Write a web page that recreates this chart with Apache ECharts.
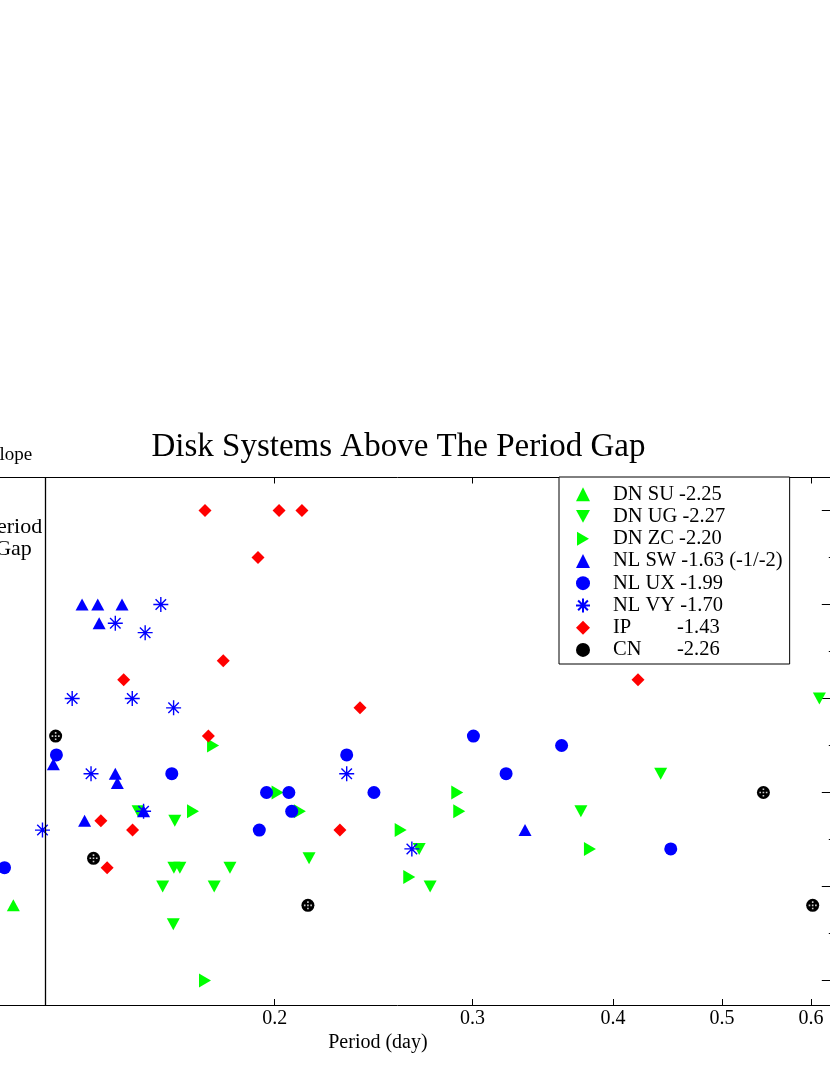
<!DOCTYPE html>
<html>
<head>
<meta charset="utf-8">
<title>Disk Systems Above The Period Gap</title>
<script src="https://cdn.jsdelivr.net/npm/echarts@6.0.0/dist/echarts.min.js"></script>
<style>
    html, body { margin: 0; padding: 0; width: 830px; height: 1075px; overflow: hidden; background: #fff; }
    #chart { position: absolute; left: -60px; top: 0; width: 960px; height: 1075px; }
</style>
</head>
<body>
<div id="chart"></div>
<script>
var FONT = '"Liberation Serif", "Times New Roman", serif';

// axis ticks
var periodTicks = [0.2, 0.3, 0.4, 0.5, 0.6];
var periodTickLabels = ['0.2', '0.3', '0.4', '0.5', '0.6'];
var slopeMajorTicks = [-1, -1.5, -2, -2.5, -3, -3.5];
var slopeMinorTicks = [-1.25, -1.75, -2.25, -2.75, -3.25];
var periodGap = 0.125;

// legend
var seriesNames = ['DN SU', 'DN UG', 'DN ZC', 'NL SW', 'NL UX', 'NL VY', 'IP', 'CN'];
var seriesSlopes = ['-2.25', '-2.27', '-2.20', '-1.63 (-1/-2)', '-1.99', '-1.70', '-1.43', '-2.26'];

// [period (day), slope]
var dnSU = [[0.1171, -3.10]];
var dnUG = [[0.1512, -2.60], [0.1630, -2.65], [0.1627, -2.90], [0.1647, -2.90], [0.1825, -2.90],
    [0.1590, -3.00], [0.1767, -3.00], [0.1625, -3.20], [0.2146, -2.85], [0.2689, -2.80],
    [0.2750, -3.00], [0.3745, -2.60], [0.4410, -2.40], [0.6104, -2.00]];
var dnZC = [[0.1734, -3.50], [0.1763, -2.25], [0.1692, -2.60], [0.2012, -2.50], [0.2106, -2.60],
    [0.2589, -2.70], [0.2635, -2.95], [0.2907, -2.50], [0.2919, -2.60], [0.3815, -2.80]];
var nlSW = [[0.1348, -1.50], [0.1392, -1.50], [0.1463, -1.50], [0.1396, -1.60], [0.1271, -2.35],
    [0.1443, -2.40], [0.1449, -2.45], [0.1355, -2.65], [0.1529, -2.60], [0.3340, -2.70]];
var nlUX = [[0.1150, -2.90], [0.1279, -2.30], [0.1620, -2.40], [0.1967, -2.50], [0.2059, -2.50],
    [0.2071, -2.60], [0.1938, -2.70], [0.2318, -2.30], [0.2451, -2.50], [0.3005, -2.20],
    [0.3213, -2.40], [0.3600, -2.25], [0.4502, -2.80]];
var nlVY = [[0.1584, -1.50], [0.1443, -1.60], [0.1534, -1.65], [0.1321, -2.00], [0.1494, -2.00],
    [0.1626, -2.05], [0.1373, -2.40], [0.1243, -2.70], [0.1529, -2.60], [0.2318, -2.40],
    [0.2649, -2.80]];
var ip = [[0.1734, -1.00], [0.2018, -1.00], [0.2115, -1.00], [0.1933, -1.25], [0.1800, -1.80],
    [0.1468, -1.90], [0.1746, -2.20], [0.2382, -2.05], [0.4210, -1.90], [0.1401, -2.65],
    [0.1495, -2.70], [0.1419, -2.90], [0.2286, -2.70]];
var cn = [[0.1277, -2.20], [0.1380, -2.85], [0.2141, -3.10], [0.5443, -2.50], [0.6021, -3.10]];

var allData = [dnSU, dnUG, dnZC, nlSW, nlUX, nlVY, ip, cn];

var STAR = 'path://M10,0L10,20M0,10L20,10M3,3L17,17M3,17L17,3';
var DOTS = 'path://M4,0h2v2h-2zM0,4h2v2h-2zM8,4h2v2h-2zM4,8h2v2h-2zM4,4h2v2h-2z';
var DOWN = 'path://M0,0L26,0L13,24Z';
var RIGHT = 'path://M0,0L24,14L0,28Z';

var markers = [
    { symbol: 'triangle', size: [13, 12], rotate: 0, color: '#00ff00', icon: 'triangle' },
    { symbol: 'triangle', size: [13, 12], rotate: 180, color: '#00ff00', icon: DOWN },
    { symbol: 'triangle', size: [14, 12], rotate: -90, color: '#00ff00', icon: RIGHT },
    { symbol: 'triangle', size: [13, 12], rotate: 0, color: '#0000ff', icon: 'triangle' },
    { symbol: 'circle', size: 13, rotate: 0, color: '#0000ff', icon: 'circle' },
    { symbol: STAR, size: 15, rotate: 0, color: 'transparent', border: '#0000ff', icon: STAR },
    { symbol: 'diamond', size: 13, rotate: 0, color: '#ff0000', icon: 'diamond' },
    { symbol: 'circle', size: 13, rotate: 0, color: '#000000', icon: 'circle' }
];

function logPoints(points) {
    return points.map(function (p) {
        return [Math.log10(p[0]), p[1]];
    });
}

function init() {
    var myChart = echarts.init(document.getElementById('chart'));
    var logTicks = periodTicks.map(function (v) { return Math.log10(v); });
    var xMin = Math.log10(0.105), xMax = Math.log10(0.63);
    var yMin = -3.63, yMax = -0.825;

    var series = [];
    allData.forEach(function (data, i) {
        var m = markers[i];
        var s = {
            name: seriesNames[i],
            type: 'scatter',
            data: logPoints(data),
            symbol: m.symbol,
            symbolSize: m.size,
            symbolRotate: m.rotate,
            itemStyle: { color: m.color, opacity: 1 },
            emphasis: { disabled: true }
        };
        if (m.border) {
            s.itemStyle.borderColor = m.border;
            s.itemStyle.borderWidth = 1.4;
        }
        series.push(s);
    });
    // period gap line
    series[0].markLine = {
        silent: true,
        symbol: 'none',
        precision: 6,
        label: { show: false },
        lineStyle: { color: '#000', width: 1.3, type: 'solid' },
        data: [{ xAxis: Math.log10(periodGap) }]
    };
    // white specks on the CN markers
    series.push({
        type: 'scatter',
        data: logPoints(cn),
        symbol: DOTS,
        symbolSize: 8,
        silent: true,
        itemStyle: { color: '#ffffff' }
    });

    var legendData = seriesNames.map(function (n, i) {
        return { name: n, icon: markers[i].icon };
    });

    var axisLine = { show: true, lineStyle: { color: '#000', width: 1 } };
    var option = {
        animation: false,
        backgroundColor: '#fff',
        title: {
            text: 'Disk Systems Above The Period Gap',
            left: 458.5,
            top: 431,
            textAlign: 'center',
            padding: 0,
            textStyle: { fontFamily: FONT, fontSize: 33, fontWeight: 'normal', color: '#000' }
        },
        grid: { left: 20.1, right: 65.2, top: 477.5, bottom: 70 },
        legend: {
            data: legendData,
            orient: 'vertical',
            left: 619,
            top: 477,
            backgroundColor: '#fff',
            borderColor: '#000',
            borderWidth: 1,
            borderRadius: 0,
            padding: [6, 7, 3, 16],
            itemWidth: 14,
            itemHeight: 14,
            itemGap: 0,
            formatter: function (name) {
                var slope = seriesSlopes[seriesNames.indexOf(name)];
                if (name.length < 3) {
                    return '{w|' + name + '}' + slope;
                }
                return name + ' ' + slope;
            },
            textStyle: {
                fontFamily: FONT, fontSize: 20.5, color: '#000', lineHeight: 22.25,
                padding: [0, 0, 0, 18],
                rich: {
                    w: { fontFamily: FONT, fontSize: 20.5, lineHeight: 22.25, width: 64 }
                }
            }
        },
        xAxis: [{
            type: 'value',
            position: 'bottom',
            min: xMin,
            max: xMax,
            axisLine: axisLine,
            splitLine: { show: false },
            axisTick: { inside: true, length: 6, customValues: logTicks, lineStyle: { color: '#000' } },
            axisLabel: {
                customValues: logTicks,
                margin: 4,
                fontFamily: FONT, fontSize: 20, color: '#000',
                formatter: function (v) {
                    var best = 0;
                    logTicks.forEach(function (t, i) {
                        if (Math.abs(t - v) < Math.abs(logTicks[best] - v)) best = i;
                    });
                    return periodTickLabels[best];
                }
            },
            name: 'Period (day)',
            nameLocation: 'middle',
            nameGap: 28,
            nameTextStyle: { fontFamily: FONT, fontSize: 20, color: '#000', padding: [0, 39, 0, 0] }
        }, {
            type: 'value',
            position: 'top',
            min: xMin,
            max: xMax,
            axisLine: axisLine,
            splitLine: { show: false },
            axisTick: { inside: true, length: 6, customValues: logTicks, lineStyle: { color: '#000' } },
            axisLabel: { show: false }
        }],
        yAxis: [{
            type: 'value',
            position: 'left',
            min: yMin,
            max: yMax,
            axisLine: axisLine,
            splitLine: { show: false },
            axisTick: { inside: true, length: 13, customValues: slopeMajorTicks, lineStyle: { color: '#000' } },
            axisLabel: { show: false }
        }, {
            type: 'value',
            position: 'right',
            min: yMin,
            max: yMax,
            axisLine: axisLine,
            splitLine: { show: false },
            axisTick: { inside: true, length: 13, customValues: slopeMajorTicks, lineStyle: { color: '#000' } },
            axisLabel: { show: false }
        }, {
            type: 'value',
            position: 'right',
            min: yMin,
            max: yMax,
            axisLine: { show: false },
            splitLine: { show: false },
            axisTick: { inside: true, length: 6, customValues: slopeMinorTicks, lineStyle: { color: '#000' } },
            axisLabel: { show: false }
        }],
        graphic: [{
            type: 'text',
            left: 49,
            top: 446,
            style: { text: 'Slope', fontFamily: FONT, fontSize: 19, fill: '#000' }
        }, {
            type: 'text',
            x: 73.5,
            y: 516,
            style: {
                text: 'Period\nGap', fontFamily: FONT, fontSize: 22, lineHeight: 22,
                fill: '#000', align: 'center', verticalAlign: 'top'
            }
        }],
        series: series
    };
    myChart.setOption(option);
}

init();
</script>
</body>
</html>
